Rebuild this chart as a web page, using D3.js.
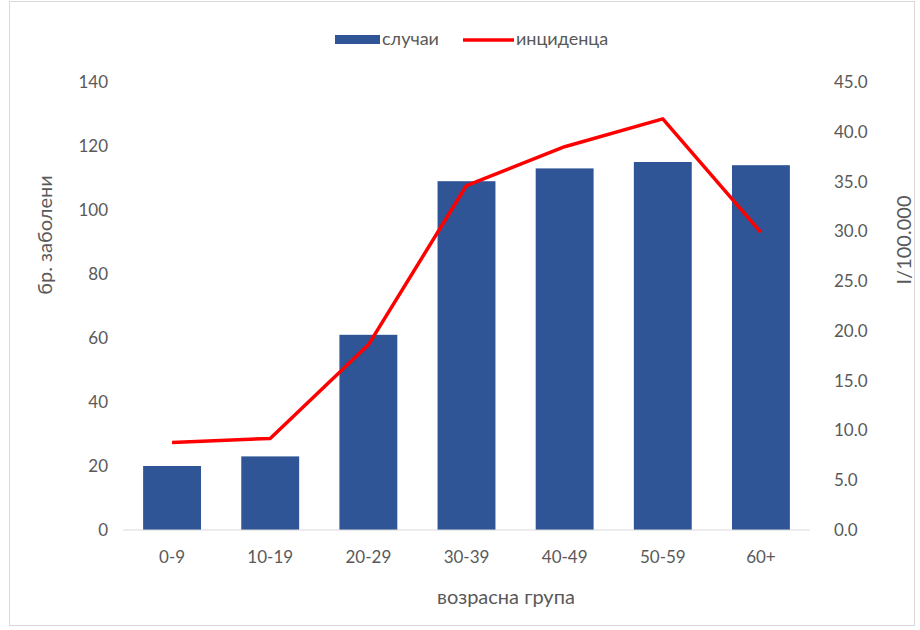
<!DOCTYPE html>
<html>
<head>
<meta charset="utf-8">
<script src="https://cdn.jsdelivr.net/npm/d3@7"></script>
<style>
  body { margin: 0; background: #fff; }
  text { font-family: Lato, "Open Sans", sans-serif; fill: #595959; }
</style>
</head>
<body>
<div id="chart"></div>
<script>
// data
const groups = ["0-9", "10-19", "20-29", "30-39", "40-49", "50-59", "60+"];
const cases = [20, 23, 61, 109, 113, 115, 114];
const incidence = [8.8, 9.2, 18.6, 34.6, 38.5, 41.3, 29.9];
const leftTicks = [0, 20, 40, 60, 80, 100, 120, 140];
const rightTicks = [0, 5, 10, 15, 20, 25, 30, 35, 40, 45];

const width = 920;
const height = 630;
const margin = { top: 82, right: 110, bottom: 100, left: 123 };

const svg = d3.select('#chart')
  .append('svg')
  .attr('width', width)
  .attr('height', height);

// chart frame
svg.append('rect')
  .attr('x', 9.5).attr('y', 1.5)
  .attr('width', 905).attr('height', 624)
  .attr('fill', 'none')
  .attr('stroke', '#d9d9d9');

const xScale = d3.scaleBand()
  .domain(groups)
  .range([margin.left, width - margin.right])
  .paddingInner(0.41)
  .paddingOuter(0.205);

const yLeft = d3.scaleLinear()
  .domain([0, 140])
  .range([height - margin.bottom, margin.top]);

const yRight = d3.scaleLinear()
  .domain([0, 45])
  .range([height - margin.bottom, margin.top]);

// bars
svg.append('g')
  .selectAll('rect')
  .data(cases)
  .join('rect')
  .attr('x', (d, i) => xScale(groups[i]))
  .attr('y', d => yLeft(d))
  .attr('width', xScale.bandwidth())
  .attr('height', d => yLeft(0) - yLeft(d))
  .attr('fill', '#2f5597');

// baseline
svg.append('line')
  .attr('x1', margin.left).attr('x2', width - margin.right)
  .attr('y1', yLeft(0)).attr('y2', yLeft(0))
  .attr('stroke', '#d9d9d9');

// incidence line
const line = d3.line()
  .x((d, i) => xScale(groups[i]) + xScale.bandwidth() / 2)
  .y(d => yRight(d));

svg.append('path')
  .datum(incidence)
  .attr('fill', 'none')
  .attr('stroke', '#ff0000')
  .attr('stroke-width', 3.5)
  .attr('stroke-linejoin', 'round')
  .attr('d', line);

// axes
const leftAxis = svg.append('g')
  .attr('transform', `translate(${margin.left - 15}, 0)`)
  .call(d3.axisLeft(yLeft).tickValues(leftTicks).tickSize(0).tickPadding(0));

const rightAxis = svg.append('g')
  .attr('transform', `translate(${width - margin.right + 24}, 0)`)
  .call(d3.axisRight(yRight).tickValues(rightTicks).tickSize(0).tickPadding(0).tickFormat(d3.format('.1f')));

const xAxis = svg.append('g')
  .attr('transform', `translate(0, ${height - margin.bottom + 21})`)
  .call(d3.axisBottom(xScale).tickSize(0).tickPadding(0));

[leftAxis, rightAxis, xAxis].forEach(g => {
  g.select('.domain').remove();
  g.selectAll('text').style('font-size', '17px').attr('fill', '#595959')
    .style('font-family', 'Lato, "Open Sans", sans-serif');
});
xAxis.selectAll('text').attr('dy', '0.71em');

// axis titles
svg.append('text')
  .attr('transform', `translate(52, 235) rotate(-90)`)
  .attr('text-anchor', 'middle')
  .style('font-size', '20px')
  .text('бр. заболени');

svg.append('text')
  .attr('transform', `translate(911, 240) rotate(-90)`)
  .attr('text-anchor', 'middle')
  .style('font-size', '20px')
  .text('I/100.000');

svg.append('text')
  .attr('x', 506).attr('y', 604)
  .attr('text-anchor', 'middle')
  .style('font-size', '20px')
  .text('возрасна група');

// legend
const legend = svg.append('g');
legend.append('rect')
  .attr('x', 335).attr('y', 35)
  .attr('width', 45).attr('height', 9)
  .attr('fill', '#2f5597');
legend.append('text')
  .attr('x', 382).attr('y', 45)
  .style('font-size', '18px')
  .text('случаи');
legend.append('line')
  .attr('x1', 463).attr('x2', 514)
  .attr('y1', 40).attr('y2', 40)
  .attr('stroke', '#ff0000')
  .attr('stroke-width', 3.5);
legend.append('text')
  .attr('x', 516).attr('y', 45)
  .style('font-size', '18px')
  .text('инциденца');
</script>
</body>
</html>
